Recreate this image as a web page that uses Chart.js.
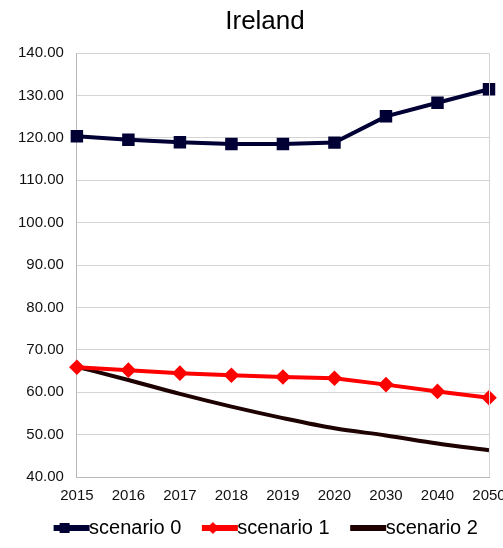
<!DOCTYPE html>
<html>
<head>
<meta charset="utf-8">
<script src="https://cdn.jsdelivr.net/npm/chart.js@4/dist/chart.umd.min.js"></script>
<style>
  html, body { margin: 0; padding: 0; background: #ffffff; }
  #wrap { width: 503px; height: 548px; }
</style>
</head>
<body>
<div id="wrap"><canvas id="irelandChart" width="503" height="548"></canvas></div>
<script>
// données
const annees = ['2015', '2016', '2017', '2018', '2019', '2020', '2030', '2040', '2050'];
const scenario0 = [120.4, 119.6, 119.0, 118.6, 118.6, 118.9, 125.1, 128.3, 131.5];
const scenario1 = [65.9, 65.2, 64.5, 64.0, 63.6, 63.3, 61.8, 60.2, 58.7];
const scenario2 = [66.0, 62.9, 59.6, 56.6, 53.9, 51.5, 49.8, 47.9, 46.3];
const nomsSeries = ['scenario 0', 'scenario 1', 'scenario 2'];

const couleur0 = '#000035';
const couleur1 = '#ff0000';
const couleur2 = '#1e0202';
const police = 'Liberation Sans, Arial, sans-serif';

// petite icône de légende : un trait avec le marqueur
// (image plus large que la case : marge à gauche, trait collé au texte)
function iconeLegende(couleur, marqueur) {
    const c = document.createElement('canvas');
    c.width = 80; c.height = 12;
    const ctx = c.getContext('2d');
    ctx.fillStyle = couleur;
    ctx.fillRect(36, 3, 36, 6);
    if (marqueur === 'carre') {
        ctx.fillRect(42, 1, 10, 10);
    } else if (marqueur === 'losange') {
        ctx.beginPath();
        ctx.moveTo(47, 0); ctx.lineTo(53, 6); ctx.lineTo(47, 12); ctx.lineTo(41, 6);
        ctx.closePath(); ctx.fill();
    }
    return c;
}

const icones = [
    iconeLegende(couleur0, 'carre'),
    iconeLegende(couleur1, 'losange'),
    iconeLegende(couleur2, null)
];

new Chart(document.getElementById('irelandChart'), {
    type: 'line',
    data: {
        labels: annees,
        datasets: [{
            label: nomsSeries[0],
            data: scenario0,
            borderColor: couleur0,
            backgroundColor: couleur0,
            borderWidth: 4,
            pointStyle: 'rect',
            pointRadius: 6,
            pointHoverRadius: 6,
            tension: 0
        }, {
            label: nomsSeries[1],
            data: scenario1,
            borderColor: couleur1,
            backgroundColor: couleur1,
            borderWidth: 4,
            pointStyle: 'rectRot',
            pointRadius: 5,
            pointHoverRadius: 5,
            tension: 0
        }, {
            label: nomsSeries[2],
            data: scenario2,
            borderColor: couleur2,
            backgroundColor: couleur2,
            borderWidth: 4,
            pointRadius: 0,
            cubicInterpolationMode: 'monotone'
        }]
    },
    options: {
        responsive: false,
        animation: false,
        layout: { padding: { left: 5, right: 14, top: 0, bottom: 0 } },
        plugins: {
            title: {
                display: true,
                text: 'Ireland',
                color: '#000000',
                font: { family: police, size: 26, weight: 'normal' },
                padding: { top: 6, bottom: 16 }
            },
            legend: {
                position: 'bottom',
                labels: {
                    usePointStyle: true,
                    pointStyleWidth: 43,
                    color: '#000000',
                    padding: 3,
                    font: { family: police, size: 20, lineHeight: 1 },
                    generateLabels: function (chart) {
                        return chart.data.datasets.map(function (ds, i) {
                            return {
                                text: ds.label,
                                pointStyle: icones[i],
                                fillStyle: ds.borderColor,
                                strokeStyle: ds.borderColor,
                                lineWidth: 0,
                                hidden: false,
                                datasetIndex: i
                            };
                        });
                    }
                }
            },
            tooltip: { enabled: false }
        },
        scales: {
            x: {
                offset: false,
                grid: { display: false, drawTicks: false },
                border: { color: '#b8b8b8', width: 1 },
                ticks: {
                    color: '#111111',
                    padding: 10,
                    maxRotation: 0,
                    autoSkip: false,
                    font: { family: police, size: 15 }
                },
                // le dernier libellé déborde du cadre comme sur l'original
                afterFit: function (scale) { scale.paddingRight = 0; }
            },
            y: {
                min: 40,
                max: 140,
                grid: { color: '#d4d4d4', drawTicks: false },
                border: { color: '#b8b8b8', width: 1 },
                ticks: {
                    stepSize: 10,
                    color: '#111111',
                    padding: 13,
                    font: { family: police, size: 15 },
                    callback: function (v) { return v.toFixed(2); }
                }
            }
        }
    },
    plugins: [{
        // décale titre et légende vers la droite comme sur l'original
        id: 'decalage',
        afterLayout: function (chart) {
            if (chart.titleBlock) { chart.titleBlock.left += 18; chart.titleBlock.right += 18; }
            if (chart.legend) { chart.legend.left += 10; chart.legend.right += 10; }
        },
        // bordure droite de la zone du graphique
        afterDraw: function (chart) {
            const a = chart.chartArea;
            const ctx = chart.ctx;
            ctx.save();
            ctx.strokeStyle = '#d4d4d4';
            ctx.lineWidth = 1;
            ctx.beginPath();
            ctx.moveTo(a.right + 0.5, a.top);
            ctx.lineTo(a.right + 0.5, a.bottom);
            ctx.stroke();
            ctx.restore();
        }
    }]
});
</script>
</body>
</html>
